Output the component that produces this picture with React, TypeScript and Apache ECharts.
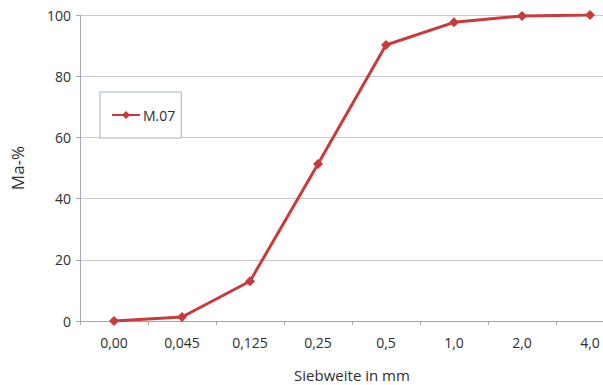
import React, { useEffect, useRef } from "react";
import * as echarts from "echarts";

const categories = ["0,00", "0,045", "0,125", "0,25", "0,5", "1,0", "2,0", "4,0"];
const seriesName = "M.07";
const values = [0, 1.3, 13, 51.3, 90.2, 97.6, 99.7, 100];
const yTicks = [0, 20, 40, 60, 80, 100];

export default function App() {
  const ref = useRef<HTMLDivElement>(null);
  useEffect(() => {
    if (!ref.current) return;
    const chart = echarts.init(ref.current, undefined, { renderer: "svg" });
    const font = "'Open Sans', 'Liberation Sans', sans-serif";
    chart.setOption({
      animation: false,
      backgroundColor: "#ffffff",
      grid: {
        left: 80,
        top: 15,
        width: 544,
        height: 306,
        containLabel: false,
        outerBoundsMode: "none",
      },
      legend: {
        left: 100,
        top: 92,
        padding: [16, 6, 16, 11],
        backgroundColor: "#ffffff",
        borderColor: "#9db0c4",
        borderWidth: 1,
        borderRadius: 0,
        itemWidth: 28,
        itemHeight: 10,
        itemGap: 4,
        textStyle: { fontFamily: font, fontSize: 14, color: "#2e2e2e", padding: [0, 0, 0, -2] },
        data: [seriesName],
      },
      xAxis: {
        type: "category",
        data: categories,
        boundaryGap: true,
        name: "Siebweite in mm",
        nameLocation: "middle",
        nameGap: 46,
        nameTextStyle: { fontFamily: font, fontSize: 15, color: "#2e2e2e" },
        axisLine: { show: true, lineStyle: { color: "#a8a8b4", width: 1 } },
        axisTick: { show: true, length: 4, inside: false, lineStyle: { color: "#a8a8b4" } },
        axisLabel: { margin: 14, fontFamily: font, fontSize: 14, color: "#2e2e2e" },
        splitLine: { show: false },
      },
      yAxis: {
        type: "value",
        min: 0,
        max: 100,
        interval: 20,
        name: "Ma-%",
        nameLocation: "middle",
        nameGap: 54,
        nameRotate: 90,
        nameTextStyle: { fontFamily: font, fontSize: 17, color: "#2e2e2e" },
        axisLine: { show: true, lineStyle: { color: "#a8a8b4", width: 1 } },
        axisTick: { show: true, length: 4, lineStyle: { color: "#a8a8b4" } },
        axisLabel: {
          margin: 9,
          fontFamily: font,
          fontSize: 14,
          color: "#2e2e2e",
          formatter: (v: number) => (yTicks.includes(v) ? String(v) : ""),
        },
        splitLine: { show: true, lineStyle: { color: "#c8c8d2", width: 1 } },
      },
      series: [
        {
          name: seriesName,
          type: "line",
          data: values,
          symbol: "diamond",
          symbolSize: 10,
          lineStyle: { color: "#c83a3c", width: 3 },
          itemStyle: { color: "#c83a3c" },
        },
      ],
    });
    return () => chart.dispose();
  }, []);
  return (
    <div
      ref={ref}
      style={{ position: "fixed", left: 0, top: 0, width: 603, height: 385, overflow: "hidden" }}
    />
  );
}
